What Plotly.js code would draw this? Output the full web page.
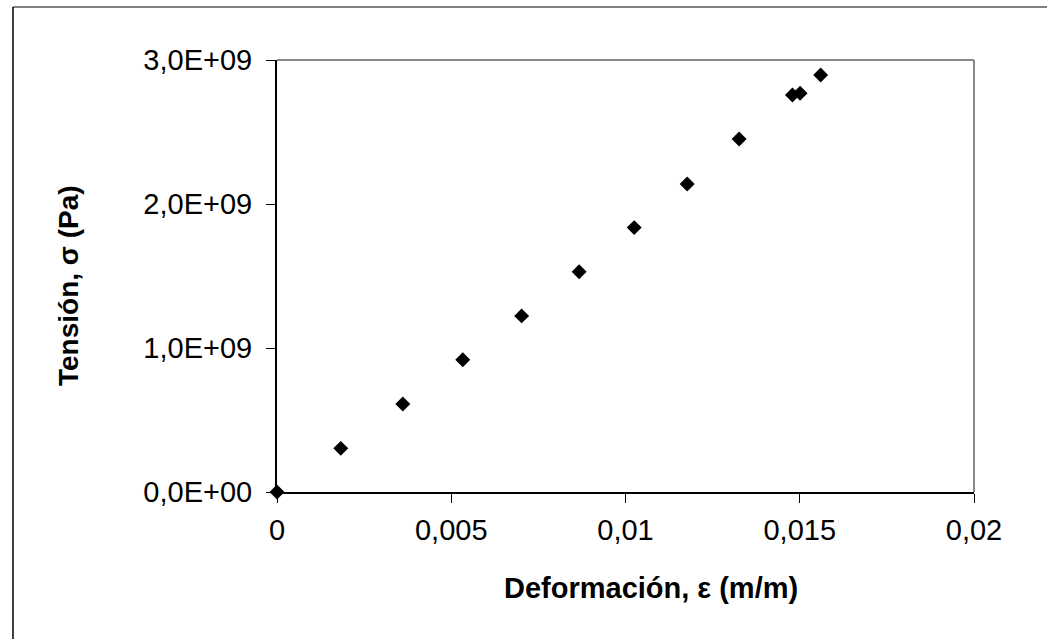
<!DOCTYPE html>
<html>
<head>
<meta charset="utf-8">
<script src="https://cdn.plot.ly/plotly-3.0.1.min.js"></script>
<style>
  html, body { margin: 0; padding: 0; background: #ffffff; }
  #chart { width: 1047px; height: 639px; }
</style>
</head>
<body>
<div id="chart"></div>
<script>
// Data
const strain = [0, 0.00183, 0.00361, 0.00533, 0.00702, 0.00867, 0.01025, 0.01177, 0.01326, 0.01479, 0.01501, 0.01560];
const stress = [0, 0.303e9, 0.611e9, 0.918e9, 1.223e9, 1.529e9, 1.836e9, 2.139e9, 2.452e9, 2.757e9, 2.769e9, 2.896e9];

const xTickVals = [0, 0.005, 0.01, 0.015, 0.02];
const xTickText = ["0", "0,005", "0,01", "0,015", "0,02"];
const yTickVals = [0, 1e9, 2e9, 3e9];
const yTickText = ["0,0E+00", "1,0E+09", "2,0E+09", "3,0E+09"];

const xTitle = "Deformación, ε (m/m)";
const yTitle = "Tensión, σ (Pa)";

const fontFam = "Liberation Sans, Arial, sans-serif";

const trace = {
  x: strain,
  y: stress,
  type: "scatter",
  mode: "markers",
  marker: { symbol: "diamond", size: 11.5, color: "#000000" },
  cliponaxis: false,
  hoverinfo: "x+y"
};

// pixel layout helpers
const L = 277, R = 73, T = 60, B = 147, W = 1047, H = 639;
const pw = W - L - R, ph = H - T - B;
const px = v => (v - L) / pw;
const py = v => (H - B - v) / ph;

const tickFont = { family: fontFam, size: 29, color: "#000000" };

const layout = {
  width: W,
  height: H,
  margin: { l: L, r: R, t: T, b: B, pad: 0 },
  paper_bgcolor: "#ffffff",
  plot_bgcolor: "#ffffff",
  showlegend: false,
  font: { family: fontFam, size: 29, color: "#000000" },
  xaxis: {
    range: [0, 0.02],
    tickvals: xTickVals,
    ticktext: xTickText,
    ticks: "outside",
    ticklen: 9,
    tickwidth: 1,
    tickcolor: "#000000",
    ticklabelstandoff: 2,
    showgrid: false,
    zeroline: false,
    showline: true,
    linecolor: "#000000",
    linewidth: 2,
    tickfont: tickFont
  },
  yaxis: {
    range: [0, 3e9],
    tickvals: yTickVals,
    ticktext: yTickText,
    ticks: "outside",
    ticklen: 9,
    tickwidth: 1,
    tickcolor: "#000000",
    ticklabelstandoff: 8,
    showgrid: false,
    zeroline: false,
    showline: true,
    linecolor: "#000000",
    linewidth: 2,
    tickfont: tickFont
  },
  annotations: [
    { text: "<b>" + xTitle + "</b>", xref: "paper", yref: "paper", x: px(651), y: py(588),
      xanchor: "center", yanchor: "middle", showarrow: false,
      font: { family: fontFam, size: 29, color: "#000000" } },
    { text: "<b>" + yTitle + "</b>", xref: "paper", yref: "paper", x: px(68), y: py(286),
      xanchor: "center", yanchor: "middle", showarrow: false, textangle: -90,
      font: { family: fontFam, size: 28, color: "#000000" } }
  ],
  shapes: [
    // plot area border (top & right, gray)
    { type: "line", xref: "paper", yref: "paper", x0: 0, x1: 1, y0: 1, y1: 1, line: { color: "#888888", width: 2 } },
    { type: "line", xref: "paper", yref: "paper", x0: 1, x1: 1, y0: 0, y1: 1, line: { color: "#888888", width: 2 } },
    // outer chart border
    { type: "line", xref: "paper", yref: "paper", x0: px(13), x1: px(W + 5), y0: py(7), y1: py(7), line: { color: "#808080", width: 2 } },
    { type: "line", xref: "paper", yref: "paper", x0: px(13), x1: px(13), y0: py(7), y1: py(H + 5), line: { color: "#000000", width: 1.5 } }
  ]
};

Plotly.newPlot("chart", [trace], layout, { displayModeBar: false, staticPlot: true });
</script>
</body>
</html>
